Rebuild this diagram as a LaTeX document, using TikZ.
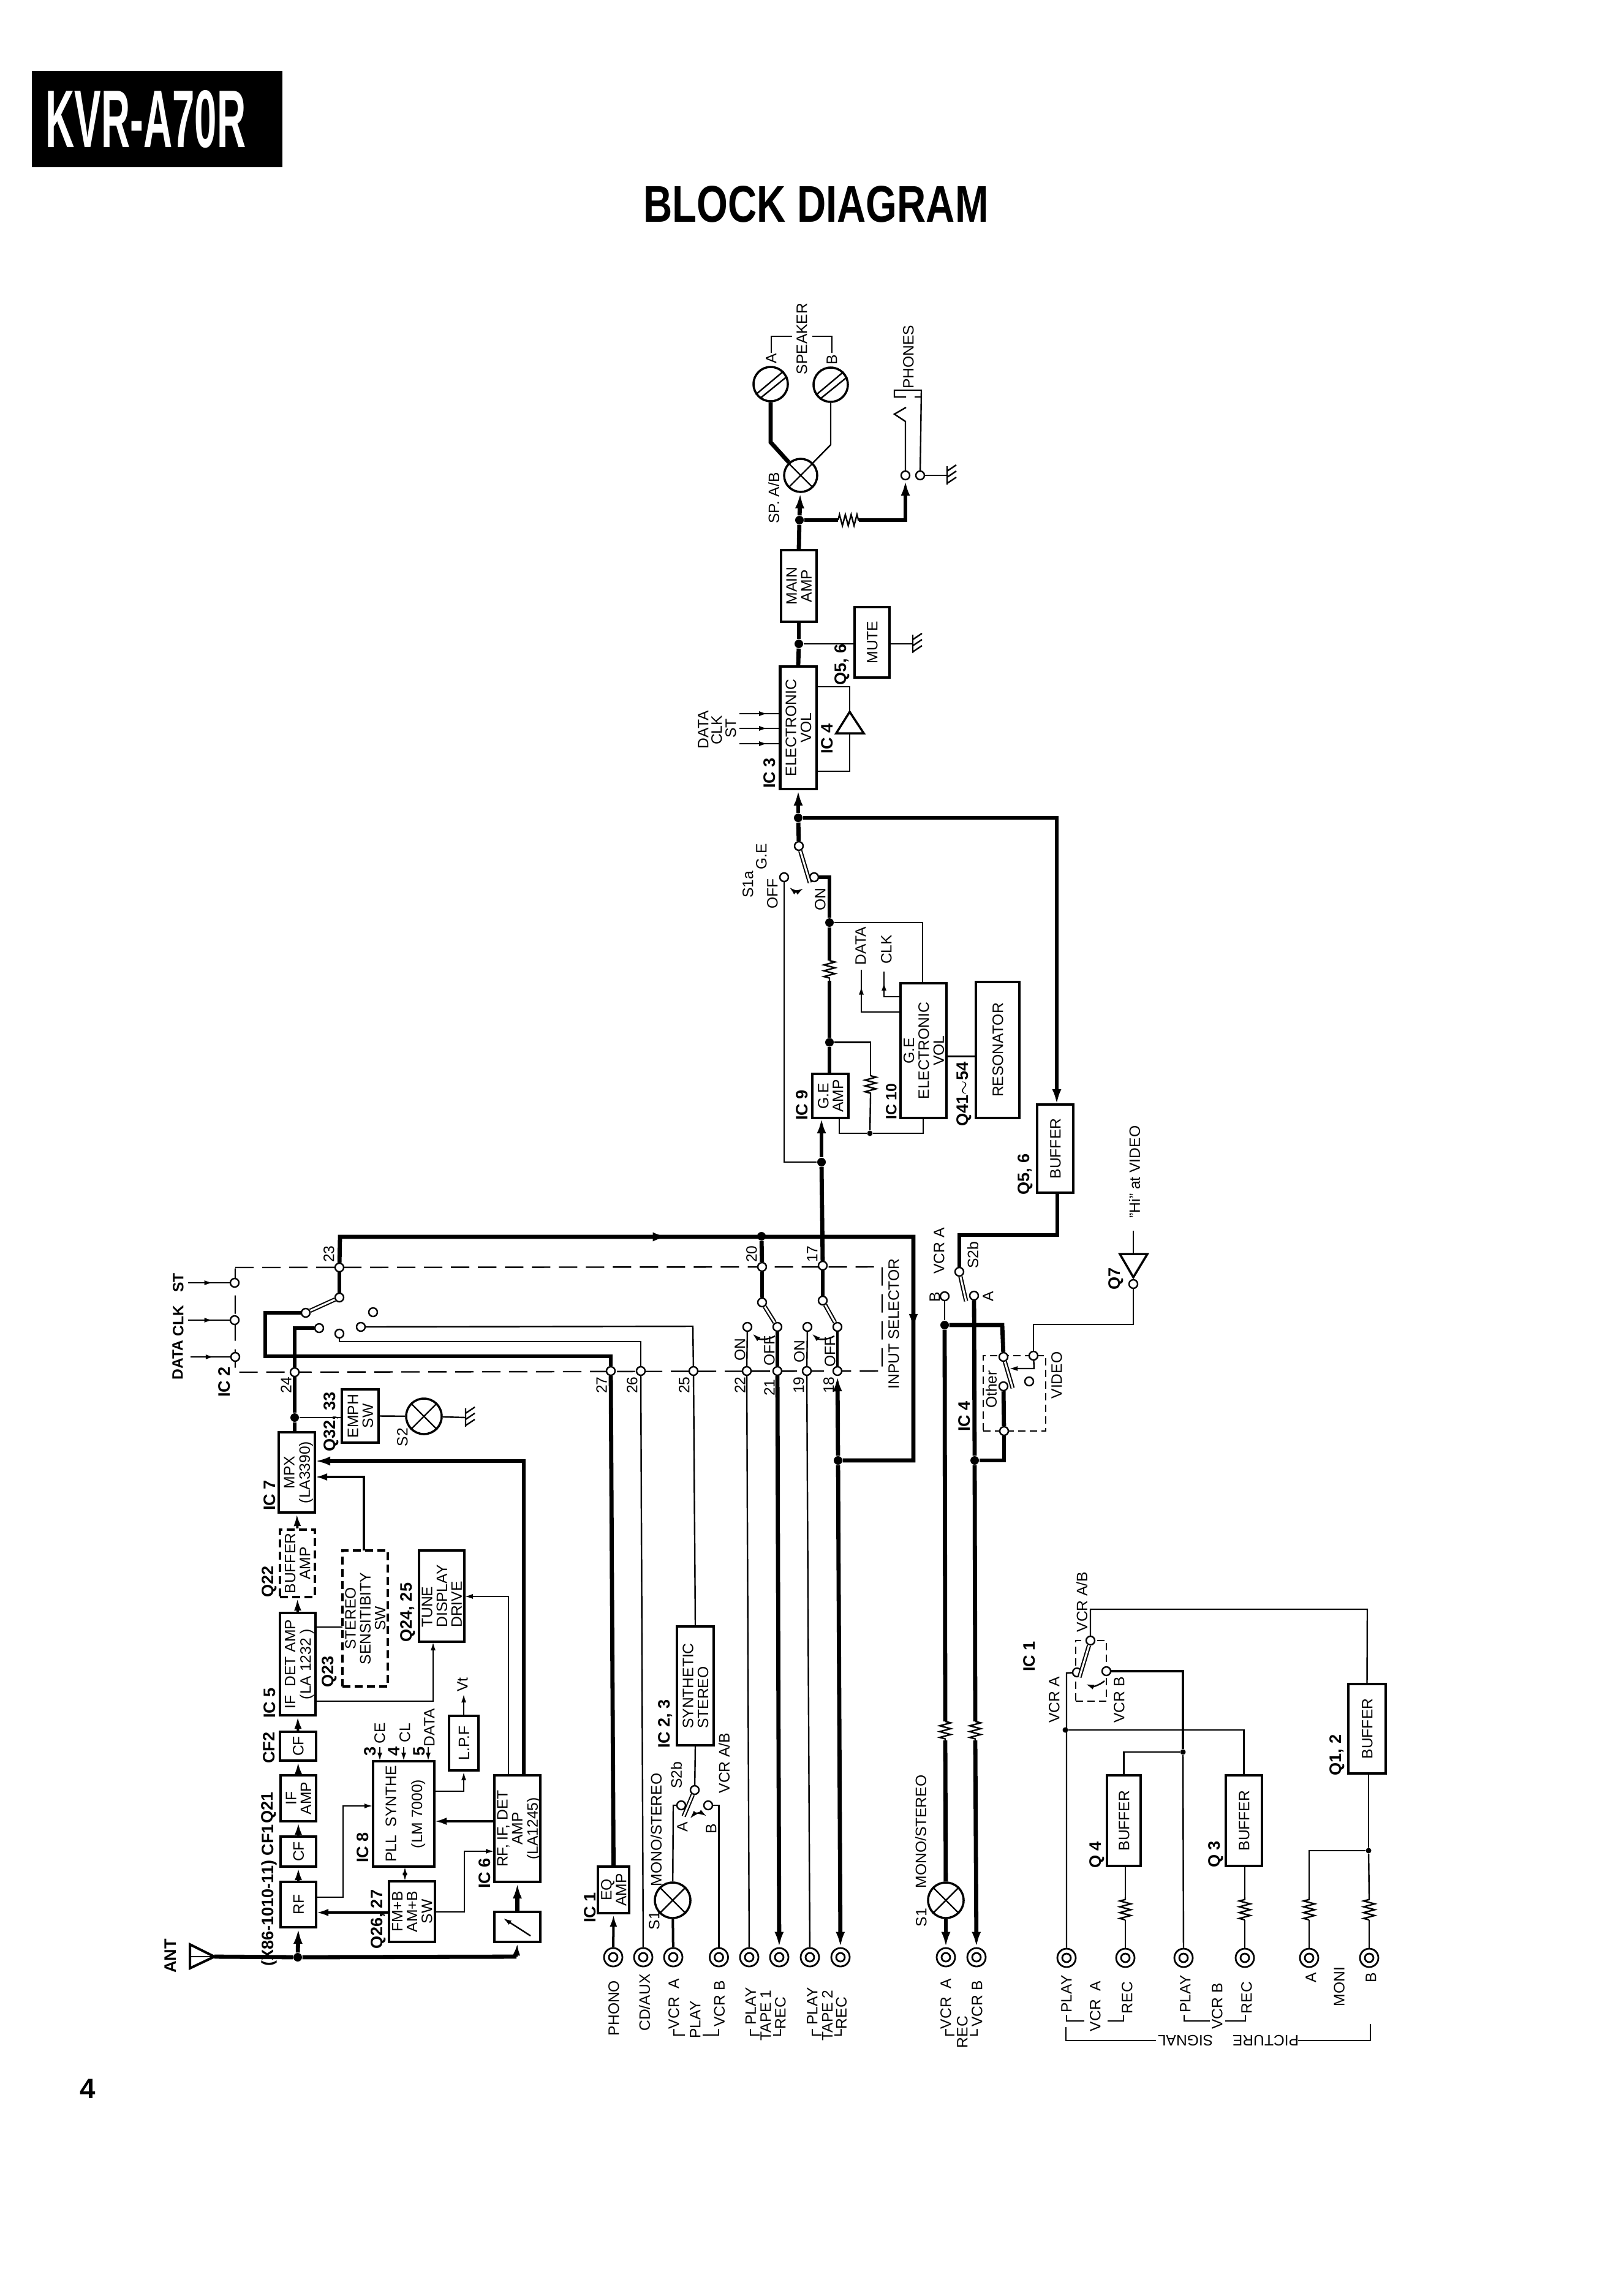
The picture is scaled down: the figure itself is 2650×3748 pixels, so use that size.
\documentclass[tikz,border=0pt]{standalone}
\usepackage{graphicx}
\usepackage{fontspec}
\setmainfont{Liberation Sans}
\usetikzlibrary{arrows.meta,decorations.pathmorphing,decorations.markings}
\tikzset{
    wire/.style={line width=.024cm,>={Latex[length=.14cm,width=.08cm]}},
    mid/.style={line width=.04cm,>={Latex[length=.2cm,width=.12cm]}},
    bus/.style={line width=.068cm,>={Latex[length=.25cm,width=.15cm]}},
    edge/.style={->},
    flow/.style={postaction={decorate,decoration={markings,mark=at position #1 with {\arrow{>}}}}},
    block/.style={rectangle,draw,line width=.04cm,inner sep=0,font=\fontsize{7}{6.8}\selectfont},
    dblock/.style={block,dash pattern=on .13cm off .07cm},
    dbox/.style={rectangle,draw,wire,inner sep=0,dash pattern=on .12cm off .07cm},
    dline/.style={wire,dash pattern=on .3cm off .14cm},
    term/.style={circle,draw,fill=white,wire,inner sep=0,minimum size=.14cm},
    dotj/.style={circle,fill=black,inner sep=0,minimum size=.14cm},
    lamp/.style={circle,draw,fill=white,line width=.035cm,inner sep=0,minimum size=.58cm},
    spk/.style={circle,draw,fill=white,line width=.035cm,inner sep=0,minimum size=.56cm},
    jack/.style={circle,draw,fill=white,line width=.028cm,inner sep=0,minimum size=.30cm,
        path picture={\draw[line width=.028cm] (path picture bounding box.center) circle (.07cm);}},
    arm/.style={double,double distance=.03cm,line width=.02cm},
    zig/.style={decorate,decoration={zigzag,segment length=.095cm,amplitude=.09cm}},
    lab/.style={rotate=90,inner sep=0,font=\fontsize{7}{7.5}\selectfont},
    tag/.style={rotate=90,inner sep=0,font=\fontsize{7.7}{8}\selectfont\bfseries}
}
\newcommand{\vtxt}[2][c]{\makebox[0pt]{\kern2.2pt\rotatebox{90}{\begin{tabular}{@{}#1@{}}#2\end{tabular}}}}
\newcommand{\lampx}[1]{\draw[wire] (#1.45) -- (#1.225) (#1.135) -- (#1.315);}
\newcommand{\spkx}[1]{\draw[wire] (#1.215) -- (#1.45) (#1.233) -- (#1.25);}
\newcommand{\gndsym}[1]{\draw[wire] ([yshift=.15cm]#1) -- ([yshift=-.15cm]#1)
    ([yshift=-.13cm]#1) -- ([xshift=.15cm,yshift=-.03cm]#1)
    ([yshift=-.03cm]#1) -- ([xshift=.15cm,yshift=.07cm]#1)
    ([yshift=.07cm]#1) -- ([xshift=.15cm,yshift=.17cm]#1);}

\begin{document}
\begin{tikzpicture}[x=.01cm,y=-.01cm]
\useasboundingbox (0,0) rectangle (2650,3748);

\node[fill=black,text=white,inner sep=0,minimum width=4.09cm,minimum height=1.57cm,font=\fontsize{37.9}{38}\selectfont\bfseries] (model) at (256.5,194.5) {\scalebox{.49}[1]{KVR-A70R}\hspace*{.37cm}};
\node[inner sep=0,font=\fontsize{24}{25}\selectfont\bfseries] (title) at (1332,333) {\scalebox{.775}[1]{BLOCK DIAGRAM}};
\node[inner sep=0,font=\fontsize{13}{13}\selectfont\bfseries] (page) at (143,3410) {4};

\coordinate (ic2a) at (384,2069);
\draw[dline] (ic2a) -- (1440,2068) -- (1440,2238) -- (384,2240) -- cycle;

\node[block,minimum width=.59cm,minimum height=1.31cm] (mpx) at (484.5,2403.5) {\vtxt{MPX\\(LA3390)}};
\node[dblock,minimum width=.57cm,minimum height=1.10cm] (bufamp) at (485.5,2552) {\vtxt{BUFFER\\AMP}};
\node[dblock,minimum width=.74cm,minimum height=2.22cm] (stsw) at (596,2642) {\vtxt{STEREO\\SENSITIBITY\\SW}};
\node[block,minimum width=.58cm,minimum height=1.67cm] (ifdet) at (486,2716.5) {\vtxt{IF\ \ DET AMP\\(LA 1232 )}};
\node[block,minimum width=.59cm,minimum height=.47cm] (cf2) at (486.5,2850.5) {\vtxt{CF}};
\node[block,minimum width=.58cm,minimum height=.75cm] (ifamp) at (487,2935.5) {\vtxt{IF\\AMP}};
\node[block,minimum width=.58cm,minimum height=.49cm] (cf1) at (487,3022.5) {\vtxt{CF}};
\node[block,minimum width=.58cm,minimum height=.74cm] (rf) at (487,3109) {\vtxt{RF}};
\node[block,minimum width=.74cm,minimum height=1.49cm] (tune) at (721,2605.5) {\vtxt[l]{TUNE\\DISPLAY\\DRIVE}};
\node[block,minimum width=.60cm,minimum height=.87cm] (emph) at (588,2311.5) {\vtxt{EMPH\\SW}};
\node[block,minimum width=.48cm,minimum height=.89cm] (lpf) at (757,2845.5) {\vtxt{L.P.F}};
\node[block,minimum width=1.00cm,minimum height=1.72cm] (pll) at (659,2961) {\vtxt{PLL\ \ SYNTHE\\[5pt](LM 7000)}};
\node[block,minimum width=.75cm,minimum height=.99cm] (fmb) at (672.5,3120.5) {\vtxt{FM+B\\AM+B\\SW}};
\node[block,minimum width=.75cm,minimum height=1.74cm] (rfif) at (844.5,2985) {\vtxt{RF, IF, DET\\AMP\\(LA1245)}};
\node[block,minimum width=.75cm,minimum height=.49cm] (tuner) at (844.5,3145.5) {};
\node[block,minimum width=.51cm,minimum height=.76cm] (eq) at (1001.5,3085) {\vtxt{EQ\\AMP}};
\node[block,minimum width=.60cm,minimum height=1.94cm] (synth) at (1135,2752) {\vtxt[l]{SYNTHETIC\\STEREO}};
\node[block,minimum width=.58cm,minimum height=1.17cm] (main) at (1304,956.5) {\vtxt{MAIN\\AMP}};
\node[block,minimum width=.57cm,minimum height=1.15cm] (mute) at (1423.5,1048.5) {\vtxt{MUTE}};
\node[block,minimum width=.59cm,minimum height=2.00cm] (evol) at (1303,1188) {\vtxt{ELECTRONIC\\VOL}};
\node[block,minimum width=.59cm,minimum height=.72cm] (geamp) at (1355.5,1789) {\vtxt{G.E\\AMP}};
\node[block,minimum width=.75cm,minimum height=2.20cm] (gevol) at (1507.5,1715) {\vtxt{G.E\\ELECTRONIC\\VOL}};
\node[block,minimum width=.71cm,minimum height=2.22cm] (reson) at (1628.5,1714) {\vtxt{RESONATOR}};
\node[block,minimum width=.59cm,minimum height=1.44cm] (buf56) at (1722.5,1875) {\vtxt{BUFFER}};
\node[block,minimum width=.55cm,minimum height=1.48cm] (q4b) at (1834.5,2972) {\vtxt{BUFFER}};
\node[block,minimum width=.59cm,minimum height=1.48cm] (q3b) at (2030.5,2972) {\vtxt{BUFFER}};
\node[block,minimum width=.61cm,minimum height=1.46cm] (q12b) at (2231.5,2822) {\vtxt{BUFFER}};
\node[dbox,minimum width=1.02cm,minimum height=1.23cm] (oth) at (1656,2274.5) {};
\node[dbox,minimum width=.50cm,minimum height=.99cm] (vsw) at (1781,2727.5) {};

\node[term] (tst) at (383,2094) {};
\node[term] (tclk) at (383,2155) {};
\node[term] (tdata) at (384,2215) {};
\node[term] (t23) at (554,2069) {};
\node[term] (t24) at (481,2240) {};
\node[term] (t27) at (997,2238) {};
\node[term] (t26) at (1046,2238) {};
\node[term] (t25) at (1132,2238) {};
\node[term] (t22) at (1219,2238) {};
\node[term] (t21) at (1269,2238) {};
\node[term] (t19) at (1317,2238) {};
\node[term] (t18) at (1367,2238) {};
\node[term] (t20) at (1244,2068) {};
\node[term] (t17) at (1343,2066) {};
\node[term] (c1) at (521,2168) {};
\node[term] (c2) at (499,2143) {};
\node[term] (c3) at (554,2118) {};
\node[term] (c4) at (609,2142) {};
\node[term] (c5) at (589,2166) {};
\node[term] (c6) at (554,2177) {};
\node[term] (c20) at (1244,2126) {};
\node[term] (c21) at (1269,2166) {};
\node[term] (c22) at (1220,2166) {};
\node[term] (c17) at (1343,2123) {};
\node[term] (c18) at (1367,2166) {};
\node[term] (c19) at (1318,2166) {};
\node[term] (ca) at (1112,2947) {};
\node[term] (cb) at (1156,2947) {};
\node[term] (cc) at (1134,2922) {};
\node[term] (sa) at (1590,2115) {};
\node[term] (sb) at (1542,2116) {};
\node[term] (sc) at (1566,2076) {};
\node[term] (o1) at (1638,2215) {};
\node[term] (o2) at (1638,2263) {};
\node[term] (o3) at (1639,2336) {};
\node[term] (o4) at (1687,2213) {};
\node[term] (o5) at (1680,2255) {};
\node[term] (t7) at (1850,2096) {};
\node[term] (va) at (1758,2730) {};
\node[term] (vb) at (1806,2728) {};
\node[term] (vc) at (1780,2678) {};
\node[term] (ge1) at (1304,1381) {};
\node[term] (ge2) at (1329,1432) {};
\node[term] (ge3) at (1280,1432) {};
\node[term] (ph1) at (1478,776) {};
\node[term] (ph2) at (1502,776) {};

\node[dotj] (d0) at (486,3195) {};
\node[dotj] (d1) at (481,2314) {};
\node[dotj] (d2) at (1243,2018) {};
\node[dotj] (d3) at (1368,2384) {};
\node[dotj] (d4) at (1542,2163) {};
\node[dotj] (d5) at (1591,2384) {};
\node[dotj] (d6) at (1341,1897) {};
\node[dotj] (d7) at (1354,1701.5) {};
\node[dotj] (d8) at (1354,1506) {};
\node[dotj] (d9) at (1303,1335) {};
\node[dotj] (d10) at (1305,849) {};
\node[dotj] (d11) at (1304,1051) {};
\node[dotj,minimum size=.09cm] (d12) at (1420,1850) {};
\node[dotj,minimum size=.09cm] (d13) at (1739,2824) {};
\node[dotj,minimum size=.09cm] (d14) at (1931,2860) {};
\node[dotj,minimum size=.09cm] (d15) at (2234,3021) {};

\node[lamp] (s2) at (692,2312) {};
\node[lamp] (s1a) at (1098,3102) {};
\node[lamp] (s1b) at (1544,3102) {};
\node[lamp,minimum size=.54cm] (sp) at (1307,776) {};
\node[spk] (spa) at (1258,627) {};
\node[spk] (spb) at (1356,628) {};
\lampx{s2}
\lampx{s1a}
\lampx{s1b}
\lampx{sp}
\spkx{spa}
\spkx{spb}

\node[jack] (j1) at (1001,3195) {};
\node[jack] (j2) at (1050,3195) {};
\node[jack] (j3) at (1099,3195) {};
\node[jack] (j4) at (1173.5,3195) {};
\node[jack] (j5) at (1223,3195) {};
\node[jack] (j6) at (1272,3195) {};
\node[jack] (j7) at (1322,3195) {};
\node[jack] (j8) at (1372,3195) {};
\node[jack] (j9) at (1544,3195) {};
\node[jack] (j10) at (1594,3195) {};
\node[jack] (j11) at (1741,3196) {};
\node[jack] (j12) at (1837,3196) {};
\node[jack] (j13) at (1932,3196) {};
\node[jack] (j14) at (2032,3196) {};
\node[jack] (j15) at (2137,3196) {};
\node[jack] (j16) at (2235,3196) {};

\coordinate (ant) at (350,3194);
\coordinate (anta) at (843,3194);
\coordinate (p1) at (307,2094);
\coordinate (p2) at (307,2155);
\coordinate (p3) at (311,2215);
\coordinate (k1) at (855,2898);
\coordinate (k2) at (514,2385);
\coordinate (k3) at (830,2898);
\coordinate (k4) at (758,2606);
\coordinate (k5) at (807,2973);
\coordinate (k6) at (709,2973);
\coordinate (k7) at (807,3022);
\coordinate (k8) at (710,3121);
\coordinate (k9) at (635,3122);
\coordinate (k10) at (516,3122);
\coordinate (k11) at (516,3097);
\coordinate (k12) at (609,2948);
\coordinate (k13) at (661,3047);
\coordinate (k14) at (661,3071);
\coordinate (k15) at (709,2924);
\coordinate (k16) at (515,2656);
\coordinate (k17) at (559,2656);
\coordinate (k18) at (515,2777);
\coordinate (k19) at (707,2680);
\coordinate (k20) at (594,2531);
\coordinate (k21) at (514,2411);
\coordinate (k22) at (481,2338);
\coordinate (k23) at (558,2314);
\coordinate (k24) at (1341,1825);
\coordinate (k25) at (1354,1753);
\coordinate (k26) at (1725,1803);
\coordinate (k27) at (1726,1948);
\coordinate (k28) at (1647,2234);
\coordinate (k29) at (1332,1121);
\coordinate (k30) at (1332,1259);
\coordinate (k31) at (1387,1162);
\coordinate (k32) at (1387,1197);
\coordinate (k33) at (1545,1724.5);
\coordinate (k34) at (1593,1724.5);
\coordinate (k35) at (1506,1604.5);
\coordinate (k36) at (1470,1652);
\coordinate (k37) at (1406,1583);
\coordinate (k38) at (1470,1627);
\coordinate (k39) at (1443,1586);
\coordinate (k40) at (1370,1825);
\coordinate (k41) at (1507,1825);
\coordinate (k42) at (1207,1165);
\coordinate (k43) at (1207,1189);
\coordinate (k44) at (1207,1214);
\coordinate (k45) at (1273,1165);
\coordinate (k46) at (1273,1189);
\coordinate (k47) at (1273,1214);
\coordinate (k48) at (757,2765);
\coordinate (k49) at (620,2852);
\coordinate (k50) at (620,2875);
\coordinate (k51) at (659,2852);
\coordinate (k52) at (659,2875);
\coordinate (k53) at (699,2852);
\coordinate (k54) at (699,2875);
\coordinate (k55) at (1850,2009);
\coordinate (k56) at (1850,2047);
\coordinate (k57) at (1850,2085);
\coordinate (k58) at (1116,2965);
\coordinate (k59) at (1577,2124);
\coordinate (k60) at (1653,2266);
\coordinate (k61) at (1762,2738);
\coordinate (k62) at (1322,1441);
\coordinate (k65) at (866,3160);
\coordinate (k66) at (821,3131);
\coordinate (g1) at (760,2314);
\coordinate (g2) at (1546,776);
\coordinate (g3) at (1490,1051);
\coordinate (r1a) at (1543,2810);
\coordinate (r1b) at (1543,2841);
\coordinate (r2a) at (1592,2810);
\coordinate (r2b) at (1592,2841);
\coordinate (r3a) at (1837,3134);
\coordinate (r3b) at (1837,3097);
\coordinate (r4a) at (2032,3134);
\coordinate (r4b) at (2032,3097);
\coordinate (r5a) at (2137,3134);
\coordinate (r5b) at (2137,3097);
\coordinate (r6a) at (2235,3134);
\coordinate (r6b) at (2235,3097);
\coordinate (r7a) at (1354,1601);
\coordinate (r7b) at (1354,1568);
\coordinate (r8a) at (1421,1756);
\coordinate (r8b) at (1421,1789);
\coordinate (r9a) at (1368,849);
\coordinate (r9b) at (1402,849);

\draw[block] (310,3174) -- (310,3213) -- (ant) -- cycle;
\draw[wire] (310,3194) -- (ant);
\draw[bus] (ant) -- (d0) -- (anta);
\draw[bus,edge] (d0) -- (rf.south);
\draw[mid,edge] (anta) -- (tuner.south);
\draw[wire,edge] (k65) -- (k66);
\draw[bus,edge] (tuner.north) -- (rfif.south);
\draw[mid,edge] (rf.north) -- (cf1.south);
\draw[mid,edge] (cf1.north) -- (ifamp.south);
\draw[mid,edge] (ifamp.north) -- (cf2.south);
\draw[mid,edge] (cf2.north) -- (ifdet.south);
\draw[mid,edge] (ifdet.north) -- (bufamp.south);
\draw[mid,edge] (bufamp.north) -- (mpx.south);
\draw[bus,edge] (k1) |- (k2);
\draw[wire,edge] (k3) |- (k4);
\draw[mid,edge] (k5) -- (k6);
\draw[wire,edge] (k8) -- (758,3121) -- (758,3022) -- (k7);
\draw[mid,edge] (k9) -- (k10);
\draw[wire,edge] (k11) -- (560,3097) -- (560,2948) -- (k12);
\draw[wire,<->] (k13) -- (k14);
\draw[wire,edge] (k15) -| (lpf.south);
\draw[wire] (k16) -- (k17);
\draw[wire,edge] (k18) -| (k19);
\draw[mid,edge] (k20) |- (k21);
\draw[wire,edge] (lpf.north) -- (k48);
\draw[wire,edge] (k49) -- (k50);
\draw[wire,edge] (k51) -- (k52);
\draw[wire,edge] (k53) -- (k54);
\draw[bus] (k22) -- (d1);
\draw[wire] (d1) -- (k23);
\draw[wire] (emph.east) -- (s2);
\draw[wire] (s2) -- (g1);
\gndsym{g1}
\draw[bus] (d1) -- (t24);
\draw[bus] (t24) -- (481,2168) -- (c1);
\draw[bus] (c2) -- (433,2143) -- (433,2214) -- (997,2214) -- (t27);
\draw[bus] (t27) -- (eq.north);
\draw[arm] (c2) -- (c3);
\draw[bus] (c3) -- (t23);
\draw[bus,flow=.396,flow=.774] (t23) -- (555,2019) -- (1491,2019) -- (1491,2384) -- (d3);
\draw[wire] (c5) -- (1131,2165) -- (t25);
\draw[wire] (c6) -- (554,2190) -- (1046,2190) -- (t26);
\draw[wire] (t25) -- (synth.north);
\draw[wire] (t26) -- (j2);
\draw[wire,flow=.6] (p1) -- (tst);
\draw[wire,flow=.6] (p2) -- (tclk);
\draw[wire,flow=.6] (p3) -- (tdata);
\draw[bus] (d2) -- (t20);
\draw[bus] (t20) -- (c20);
\draw[arm] (c20) -- (c21);
\draw[bus] (c21) -- (t21);
\draw[wire] (c22) -- (t22);
\draw[wire] (t22) -- (j5);
\draw[bus,edge] (t21) -- (j6);
\draw[bus] (d6) -- (t17);
\draw[bus] (t17) -- (c17);
\draw[arm] (c17) -- (c18);
\draw[mid] (c18) -- (t18);
\draw[wire] (c19) -- (t19);
\draw[wire] (t19) -- (j7);
\draw[bus,edge] (d3) -- (t18);
\draw[bus,edge] (d3) -- (j8);
\draw[wire,->] (1265,2181) to[bend left=35] (1228,2177);
\draw[wire,->] (1362,2181) to[bend left=35] (1325,2177);
\draw[mid] (j3) -- (s1a);
\draw[wire] (s1a) -- (1099,2947) -- (ca);
\draw[wire] (cb) -- (1173.5,2947) -- (j4);
\draw[wire] (synth.south) -- (cc);
\draw[arm] (cc) -- (k58);
\draw[wire,<->] (1126,2969) to[bend left=40] (1154,2965);
\draw[mid,edge] (j1) -- (eq.south);
\draw[wire] (sb) -- (d4);
\draw[bus] (d4) -- (r1a);
\draw[wire,zig] (r1a) -- (r1b);
\draw[bus] (r1b) -- (s1b);
\draw[bus,edge] (s1b) -- (j9);
\draw[bus] (sa) -- (d5);
\draw[bus] (d5) -- (r2a);
\draw[wire,zig] (r2a) -- (r2b);
\draw[bus,edge] (r2b) -- (j10);
\draw[bus] (d4) -- (1636,2163) -- (o1);
\draw[bus] (o2) -- (o3);
\draw[bus] (o3) -- (1639,2384) -- (d5);
\draw[arm] (o1) -- (k60);
\draw[bus] (k27) -- (1726,2016) -- (1566,2016) -- (sc);
\draw[arm] (sc) -- (k59);
\draw[wire] (o4) -- (1687,2162) -- (1850,2162) -- (t7);
\draw[wire,edge] (o4) -- (1688,2234) -- (k28);
\draw[line width=.035cm] (1828,2047) -- (1873,2047) -- (k57) -- cycle;
\draw[wire] (k55) -- (k56);
\draw[bus] (ge1) -- (d9);
\draw[bus,edge] (d9) -- (evol.south);
\draw[bus,edge] (d9) -- (1725,1335) -- (k26);
\draw[arm] (ge1) -- (k62);
\draw[bus] (ge2) -- (1354,1432) -- (d8);
\draw[bus] (d8) -- (r7b);
\draw[wire,zig] (r7b) -- (r7a);
\draw[bus] (r7a) -- (d7);
\draw[bus] (d7) -- (k25);
\draw[bus,edge] (d6) -- (k24);
\draw[wire] (ge3) -- (1280,1897) -- (d6);
\draw[wire,<->] (1288,1448) to[bend right=35] (1312,1450);
\draw[wire] (d8) -- (1506,1506) -- (k35);
\draw[wire] (d7) -- (1421,1701.5) -- (r8a);
\draw[wire,zig] (r8a) -- (r8b);
\draw[wire] (r8b) -- (d12);
\draw[wire] (k40) -- (1370,1850) -- (d12);
\draw[wire] (d12) -- (1507,1850) -- (k41);
\draw[wire] (k33) -- (k34);
\draw[wire,flow=.8] (k36) -- (1406,1652) -- (k37);
\draw[wire,flow=.75] (k38) -- (1443,1627) -- (k39);
\draw[wire,flow=.7] (k42) -- (k45);
\draw[wire,flow=.7] (k43) -- (k46);
\draw[wire,flow=.7] (k44) -- (k47);
\draw[wire] (k29) -| (k31);
\draw[wire] (k30) -| (k32);
\draw[line width=.035cm] (1365,1197) -- (1410,1197) -- (k31) -- cycle;
\draw[bus] (evol.north) -- (d11);
\draw[bus] (d11) -- (main.south);
\draw[wire] (d11) -- (mute.west |- d11);
\draw[wire] (mute.east |- d11) -- (g3);
\gndsym{g3}
\draw[bus] (main.north) -- (d10);
\draw[bus,edge] (d10) -- (sp);
\draw[bus] (d10) -- (r9a);
\draw[wire,zig] (r9a) -- (r9b);
\draw[bus,edge] (r9b) -- (1478,849) -- (ph1);
\draw[bus] (sp) -- (1258,722) -- (spa);
\draw[wire] (sp) -- (1356,726) -- (spb);
\draw[wire] (ph1) -- (1478,688) -- (1460,676) -- (1479,665);
\draw[wire] (ph2) -- (1504,637) -- (1460,637) -- (1460,648) -- (1479,648);
\draw[wire] (1493,648) -- (1504,648);
\draw[wire] (ph2) -- (g2);
\gndsym{g2}
\draw[wire] (j11) -- (1741,2731) -- (va);
\draw[wire] (d13) -| (q3b.north);
\draw[mid] (vb) -- (1931,2728) -- (d14);
\draw[wire] (d14) -- (j13);
\draw[wire] (d14) -| (q4b.north);
\draw[wire] (j12) -- (r3a);
\draw[wire,zig] (r3a) -- (r3b);
\draw[wire] (r3b) -- (q4b.south -| r3b);
\draw[wire] (j14) -- (r4a);
\draw[wire,zig] (r4a) -- (r4b);
\draw[wire] (r4b) -- (q3b.south -| r4b);
\draw[wire] (j15) -- (r5a);
\draw[wire,zig] (r5a) -- (r5b);
\draw[wire] (r5b) -- (2137,3021) -- (d15);
\draw[wire] (j16) -- (r6a);
\draw[wire,zig] (r6a) -- (r6b);
\draw[wire] (r6b) -- (d15);
\draw[wire] (d15) -- (q12b.south -| d15);
\draw[wire] (q12b.north) -- (2232,2627) -- (1780,2627) -- (vc);
\draw[arm] (vc) -- (k61);
\draw[wire,->] (1803,2744) to[bend left=30] (1772,2749);

% brackets
\draw[wire] (1100,3312) -- (1100,3322) -- (1118,3322) (1147,3322) -- (1173,3322) -- (1173,3312);
\draw[wire] (1225,3312) -- (1225,3322) -- (1240,3322) (1262,3322) -- (1274,3322) -- (1274,3312);
\draw[wire] (1326,3312) -- (1326,3322) -- (1341,3322) (1362,3322) -- (1373,3322) -- (1373,3312);
\draw[wire] (1544,3312) -- (1544,3322) -- (1558,3322) (1583,3322) -- (1595,3322) -- (1595,3312);
\draw[wire] (1741,3289) -- (1741,3299) -- (1770,3299) (1808,3299) -- (1834,3299) -- (1834,3289);
\draw[wire] (1933,3289) -- (1933,3299) -- (1975,3299) (2000,3299) -- (2033,3299) -- (2033,3289);
\draw[wire] (1740,3309) -- (1740,3331) -- (1887,3331) (2119,3331) -- (2237,3331) -- (2237,3304);
\draw[wire] (1259,576) -- (1259,549) -- (1293,549) (1326,549) -- (1358,549) -- (1358,576);

\node[lab] (lst) at (291,2094) {\bfseries ST};
\node[lab] (lclk) at (291,2156) {\bfseries CLK};
\node[lab] (ldata) at (290,2220) {\bfseries DATA};
\node[tag] (lic2) at (366,2256) {IC 2};
\node[lab] (l23) at (537,2047) {23};
\node[lab] (l24) at (467,2261) {24};
\node[lab] (l27) at (982,2261) {27};
\node[lab] (l26) at (1032,2261) {26};
\node[lab] (l25) at (1117,2261) {25};
\node[lab] (l22) at (1208,2261) {22};
\node[lab] (l21) at (1256,2265) {21};
\node[lab] (l19) at (1304,2261) {19};
\node[lab] (l18) at (1353,2261) {18};
\node[lab] (l20) at (1227,2047) {20};
\node[lab] (l17) at (1326,2047) {17};
\node[lab] (lon1) at (1208,2203) {ON};
\node[lab] (lon2) at (1305,2206) {ON};
\node[lab] (loff1) at (1256,2205) {OFF};
\node[lab] (loff2) at (1355,2207) {OFF};
\node[lab] (linsel) at (1459,2161) {INPUT SELECTOR};
\node[lab] (ls2) at (657,2346) {S2};
\node[tag] (lq32) at (541,2321) {Q32, 33};
\node[tag] (lic7) at (440,2441) {IC 7};
\node[tag] (lq22) at (440,2582) {Q22};
\node[tag] (lq23) at (538,2729) {Q23};
\node[tag] (lq24) at (666,2632) {Q24, 25};
\node[tag] (lic5) at (440,2780) {IC 5};
\node[tag] (lcf2) at (439,2853) {CF2};
\node[tag] (lq21) at (439,2951) {Q21};
\node[tag] (lcf1) at (439,3094) {(X86-1010-11) CF1};
\node[tag] (lant) at (278,3193) {ANT};
\node[tag] (lic8) at (592,3016) {IC 8};
\node[tag] (lic6) at (791,3058) {IC 6};
\node[tag] (lq26) at (618,3133) {Q26, 27};
\node[tag] (lic1) at (963,3114) {IC 1};
\node[lab] (lvt) at (755,2750) {Vt};
\node[lab] (lce) at (620,2829) {CE};
\node[lab] (lcl) at (661,2829) {CL};
\node[lab] (ld5) at (701,2820) {DATA};
\node[tag] (l3) at (604,2859) {3};
\node[tag] (l4) at (643,2859) {4};
\node[tag] (l5) at (684,2859) {5};
\node[tag] (lic23) at (1086,2814) {IC 2, 3};
\node[lab] (ls1a) at (1068,3135) {S1};
\node[lab] (lmono1) at (1071,2987) {MONO/STEREO};
\node[lab] (ls2b) at (1104,2898) {S2b};
\node[lab] (lvab) at (1182,2878) {VCR A/B};
\node[lab] (la1) at (1114,2982) {A};
\node[lab] (lb1) at (1161,2985) {B};
\node[lab] (lphono) at (1002,3278) {PHONO};
\node[lab] (lcd) at (1052,3269) {CD/AUX};
\node[lab] (lva) at (1100,3271) {VCR\ \ A};
\node[lab] (lvb) at (1174.5,3271) {VCR\ B};
\node[lab] (lpl) at (1135,3297) {PLAY};
\node[lab] (lp1) at (1225.5,3275) {PLAY};
\node[lab] (lt1) at (1250,3290) {TAPE 1};
\node[lab] (lr1) at (1274,3286) {REC};
\node[lab] (lp2) at (1326,3275) {PLAY};
\node[lab] (lt2) at (1350.5,3290) {TAPE 2};
\node[lab] (lr2) at (1373.5,3286) {REC};
\node[lab] (lva2) at (1544,3271) {VCR\ \ A};
\node[lab] (lrec) at (1571,3317) {REC};
\node[lab] (lvb2) at (1595,3271) {VCR\ B};
\node[lab] (ls1b) at (1504,3130) {S1};
\node[lab] (lmono2) at (1503,2990) {MONO/STEREO};
\node[lab] (lb2) at (1526,2117) {B};
\node[lab] (la2) at (1613,2116) {A};
\node[lab] (lvca) at (1533,2042) {VCR A};
\node[lab] (ls2b2) at (1588,2049) {S2b};
\node[tag] (lq7) at (1822,2087) {Q7};
\node[lab] (lhi) at (1852,1913) {"Hi" at VIDEO};
\node[lab] (lother) at (1618,2268) {Other};
\node[lab] (lvideo) at (1725,2245) {VIDEO};
\node[tag] (lic4) at (1574,2312) {IC 4};
\node[tag] (lq56) at (1674,1917) {Q5, 6};
\node[tag] (lq41) at (1574,1786) {Q41$\sim$54};
\node[lab] (lic10) at (1455,1798) {\bfseries IC 10};
\node[tag] (lic9) at (1309,1804) {IC 9};
\node[lab] (ls1c) at (1221,1444) {S1a};
\node[lab] (lge) at (1243,1398) {G.E};
\node[lab] (loff3) at (1261,1459) {OFF};
\node[lab] (lon3) at (1339,1468) {ON};
\node[lab] (ld6) at (1405,1544) {DATA};
\node[lab] (lc6) at (1447,1550) {CLK};
\node[tag] (lic3) at (1256,1262) {IC 3};
\node[tag] (lic42) at (1350,1206) {IC 4};
\node[lab] (ld7) at (1148,1191) {DATA};
\node[lab] (lc7) at (1170,1192) {CLK};
\node[lab] (ls7) at (1193,1189) {ST};
\node[tag] (lq562) at (1375,1085) {Q5, 6};
\node[lab] (lspab) at (1263,813) {SP. A/B};
\node[lab] (lspa) at (1259,585) {A};
\node[lab] (lspb) at (1358,587) {B};
\node[lab] (lspk) at (1309,553) {SPEAKER};
\node[lab] (lphones) at (1483,583) {PHONES};
\node[tag] (lic12) at (1680,2704) {IC 1};
\node[lab] (lvab2) at (1766,2615) {VCR A/B};
\node[lab] (lvca2) at (1721,2775) {VCR A};
\node[lab] (lvcb2) at (1827,2775) {VCR B};
\node[tag] (lq4) at (1791,3028) {Q 4};
\node[tag] (lq3) at (1985,3027) {Q 3};
\node[tag] (lq12) at (2183,2865) {Q1, 2};
\node[lab] (lpa) at (1741,3255) {PLAY};
\node[lab] (lva3) at (1788,3275) {VCR\ \ A};
\node[lab] (lra) at (1840,3261) {REC};
\node[lab] (lpb) at (1935,3255) {PLAY};
\node[lab] (lvb3) at (1987,3275) {VCR\ B};
\node[lab] (lrb) at (2035,3261) {REC};
\node[lab] (lma) at (2140,3228) {A};
\node[lab] (lmoni) at (2186,3243) {MONI};
\node[lab] (lmb) at (2238,3228) {B};
\node[lab,rotate=90] (lsig) at (1935,3331) {SIGNAL};
\node[lab,rotate=90] (lpic) at (2066,3331) {PICTURE};
\end{tikzpicture}
\end{document}
